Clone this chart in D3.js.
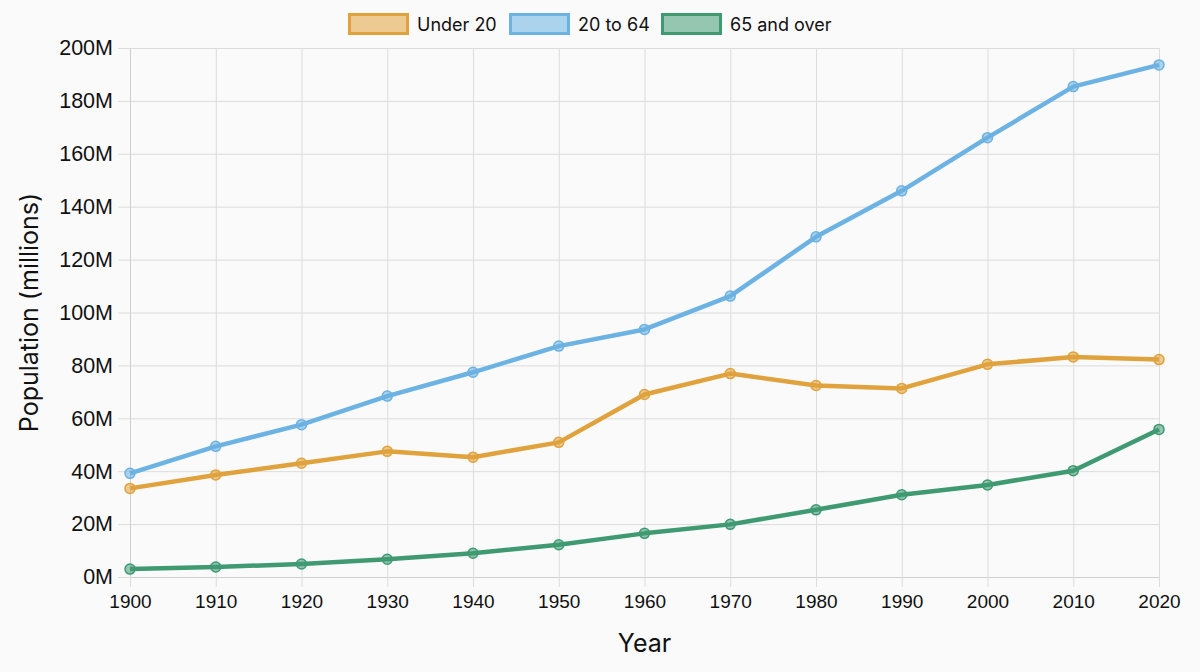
<!DOCTYPE html>
<html>
<head>
<meta charset="utf-8">
<script src="https://cdn.jsdelivr.net/npm/d3@7"></script>
<style>
  html, body { margin: 0; padding: 0; background: #fafafa; }
  svg { display: block; font-family: "Inter", "Open Sans", sans-serif; }
  .grid line { stroke: #dcdcdc; stroke-width: 1; }
  .grid .domain { display: none; }
  .axis line { stroke: #dcdcdc; }
  .axis .domain { stroke: #cfcfcf; }
  .axis text { fill: #111; font-size: 19px; }
  .y.axis text { font-size: 21.5px; }
  .title { fill: #111; font-size: 25px; }
  .legendText { fill: #111; font-size: 18px; }
</style>
</head>
<body>
<svg></svg>
<script>
var years = [1900, 1910, 1920, 1930, 1940, 1950, 1960, 1970, 1980, 1990, 2000, 2010, 2020];
var under20 = [33.5, 38.6, 43.0, 47.5, 45.3, 50.9, 69.0, 76.9, 72.4, 71.3, 80.4, 83.2, 82.2];
var age20to64 = [39.2, 49.4, 57.6, 68.4, 77.4, 87.3, 93.6, 106.2, 128.6, 146.0, 166.1, 185.4, 193.6];
var over65 = [3.0, 3.8, 4.9, 6.7, 9.0, 12.2, 16.5, 19.9, 25.4, 31.1, 34.8, 40.2, 55.8];
var seriesNames = ["Under 20", "20 to 64", "65 and over"];
var yTicks = [0, 20, 40, 60, 80, 100, 120, 140, 160, 180, 200];

var colors = ["#e0a23c", "#6cb2e2", "#3f9a72"];
var fills = ["rgba(224,162,60,0.55)", "rgba(108,178,226,0.55)", "rgba(63,154,114,0.55)"];

var series = [under20, age20to64, over65].map(function(vals, i){
  return { name: seriesNames[i], values: vals.map(function(v, j){ return { year: years[j], value: v }; }) };
});

var W = 1200, H = 672;
var padding = { top: 48, bottom: 95, left: 130, right: 41 };
var w = W - padding.left - padding.right,
    h = H - padding.top - padding.bottom;

var svg = d3.select("svg").attr("width", W).attr("height", H);
var g = svg.append("g").attr("transform", "translate(" + padding.left + "," + padding.top + ")");

var x = d3.scaleLinear().domain([1900, 2020]).range([0, w]);
var y = d3.scaleLinear().domain([0, 200]).range([h, 0]);

// grid
g.append("g").attr("class", "grid")
  .call(d3.axisLeft(y).tickValues(yTicks).tickSize(-w).tickFormat(""));
g.append("g").attr("class", "grid")
  .call(d3.axisBottom(x).tickValues(years).tickSize(h).tickFormat(""));

// y axis
g.append("g").attr("class", "y axis")
  .call(d3.axisLeft(y).tickValues(yTicks).tickSize(12).tickPadding(5).tickSizeOuter(0)
    .tickFormat(function(d){ return d + "M"; }));

// x axis
g.append("g").attr("class", "x axis")
  .attr("transform", "translate(0," + h + ")")
  .call(d3.axisBottom(x).tickValues(years).tickSize(10).tickPadding(8).tickSizeOuter(0)
    .tickFormat(d3.format("d")));

// axis titles
svg.append("text").attr("class", "title")
  .attr("text-anchor", "middle")
  .attr("transform", "translate(38," + (padding.top + h / 2) + ") rotate(-90)")
  .text("Population (millions)");
svg.append("text").attr("class", "title")
  .attr("text-anchor", "middle")
  .attr("x", padding.left + w / 2)
  .attr("y", 652)
  .text("Year");

// lines
var line = d3.line()
  .x(function(d){ return x(d.year); })
  .y(function(d){ return y(d.value); });

var sg = g.selectAll(".series")
  .data(series)
  .enter()
  .append("g").attr("class", "series");

sg.append("path")
  .attr("fill", "none")
  .attr("stroke", function(d, i){ return colors[i]; })
  .attr("stroke-width", 4.5)
  .attr("stroke-linejoin", "round")
  .attr("d", function(d){ return line(d.values); });

sg.each(function(d, i){
  d3.select(this).selectAll("circle")
    .data(d.values)
    .enter()
    .append("circle")
    .attr("cx", function(p){ return x(p.year); })
    .attr("cy", function(p){ return y(p.value); })
    .attr("r", 5)
    .attr("fill", fills[i])
    .attr("stroke", colors[i])
    .attr("stroke-width", 1.5);
});

// legend
var legendX = [348, 509, 661];
var legend = svg.append("g").selectAll(".legend")
  .data(seriesNames)
  .enter()
  .append("g")
  .attr("transform", function(d, i){ return "translate(" + legendX[i] + ",13)"; });

legend.append("rect")
  .attr("x", 1.5).attr("y", 1.5)
  .attr("width", 58).attr("height", 19)
  .attr("fill", function(d, i){ return fills[i]; })
  .attr("stroke", function(d, i){ return colors[i]; })
  .attr("stroke-width", 3);

legend.append("text")
  .attr("class", "legendText")
  .attr("x", 69)
  .attr("y", 17.5)
  .text(function(d){ return d; });
</script>
</body>
</html>
